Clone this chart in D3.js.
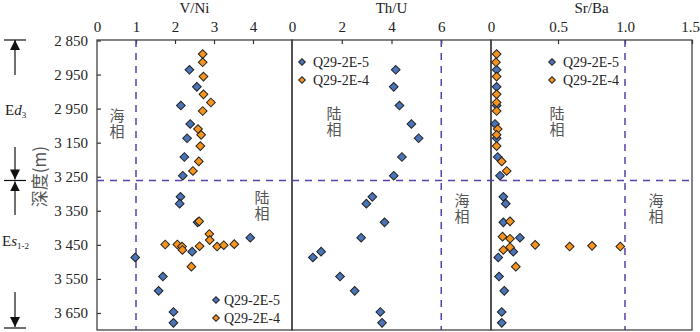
<!DOCTYPE html>
<html>
<head>
<meta charset="utf-8">
<script src="https://cdn.jsdelivr.net/npm/d3@7.9.0/dist/d3.min.js"></script>
<style>
  body { margin: 0; background: #fff; }
  svg { display: block; }
  .frame { fill: none; stroke: #333; stroke-width: 1.2; }
  .tick line { stroke: #333; stroke-width: 1.2; }
  .tick text { font-family: "Liberation Serif", "Times New Roman", serif; font-size: 15px; fill: #222; }
  .cn { font-family: "Noto Sans CJK SC", sans-serif; font-size: 15px; fill: #555; }
  .serif { font-family: "Liberation Serif", "Times New Roman", serif; fill: #222; }
</style>
</head>
<body>
<script>
// depth ticks (the source repeats "2 950")
const depthTicks = [2850, 2950, 3050, 3150, 3250, 3350, 3450, 3550, 3650];
const depthTickLabels = ["2 850", "2 950", "2 950", "3 150", "3 250", "3 350", "3 450", "3 550", "3 650"];
const boundaryDepth = 3261;

// Q29-2E-5 (blue), same samples in all three panels
const depthE5 = [2936, 2986, 3041, 3095, 3137, 3192, 3247, 3309, 3329, 3384, 3429, 3470, 3487, 3543, 3585, 3647, 3679];
const vNiE5 = [2.37, 2.56, 2.15, 2.39, 2.31, 2.24, 2.20, 2.14, 2.12, 2.58, 3.93, 2.44, 0.98, 1.69, 1.58, 1.96, 1.96];
const thUE5 = [4.17, 4.09, 4.32, 4.80, 5.09, 4.42, 4.09, 3.23, 2.99, 3.72, 2.78, 1.17, 0.84, 1.93, 2.52, 3.55, 3.62];
const srBaE5 = [0.042, 0.042, 0.042, 0.03, 0.042, 0.05, 0.067, 0.092, 0.11, 0.092, 0.216, 0.166, 0.054, 0.06, 0.099, 0.08, 0.08];

// Q29-2E-4 (orange)
const depthE4VNi = [2890, 2914, 2956, 3008, 3032, 3057, 3110, 3127, 3160, 3205, 3233,
  3381, 3418, 3436, 3449, 3449, 3455, 3465, 3454, 3455, 3451, 3448, 3514];
const vNiE4 = [2.71, 2.71, 2.73, 2.73, 2.92, 2.71, 2.59, 2.67, 2.65, 2.61, 2.46,
  2.62, 2.88, 2.89, 1.75, 2.06, 2.18, 2.19, 2.63, 3.08, 3.25, 3.52, 2.42];
const depthE4SrBa = [2890, 2914, 2956, 3008, 3032, 3057, 3110, 3127, 3160, 3205, 3233,
  3381, 3426, 3432, 3450, 3455, 3453, 3455, 3465, 3457, 3514];
const srBaE4 = [0.042, 0.037, 0.042, 0.042, 0.042, 0.042, 0.05, 0.042, 0.042, 0.08, 0.117,
  0.142, 0.086, 0.142, 0.33, 0.587, 0.754, 0.965, 0.092, 0.142, 0.185];

const seriesNames = ["Q29-2E-5", "Q29-2E-4"];
const seriesColors = ["#4a74b8", "#f7941d"];

const svg = d3.select("body").append("svg").attr("width", 700).attr("height", 332);

const y = d3.scaleLinear().domain([2850, 3700]).range([40.5, 330]);

const panels = [
  { title: "V/Ni", domain: [0, 5], range: [97, 292], ticks: [0, 1, 2, 3, 4], fmt: d3.format("d"), limit: 1,
    series: [[depthE5, vNiE5, 0], [depthE4VNi, vNiE4, 1]],
    upper: "海相", upperPos: [117, 124], lower: "陆相", lowerPos: [262, 206],
    legend: [216, 300], legendText: 224 },
  { title: "Th/U", domain: [0, 8], range: [292, 491], ticks: [0, 2, 4, 6], fmt: d3.format("d"), limit: 6,
    series: [[depthE5, thUE5, 0]],
    upper: "陆相", upperPos: [334, 122], lower: "海相", lowerPos: [462, 209],
    legend: [302, 62], legendText: 313 },
  { title: "Sr/Ba", domain: [0, 1.5], range: [491, 692], ticks: [0, 0.5, 1, 1.5], fmt: d => d === 0 ? "0" : d3.format(".1f")(d), limit: 1,
    series: [[depthE5, srBaE5, 0], [depthE4SrBa, srBaE4, 1]],
    upper: "陆相", upperPos: [557, 122], lower: "海相", lowerPos: [656, 209],
    legend: [552, 62], legendText: 563 }
];

const diamond = d3.symbol().type(d3.symbolSquare);
const dashColor = "#5a3fa8";

panels.forEach(p => {
  const x = d3.scaleLinear().domain(p.domain).range(p.range);
  const g = svg.append("g");

  // top axis, ticks pointing inward
  const ax = g.append("g").attr("transform", "translate(0,40)")
    .call(d3.axisTop(x).tickValues(p.ticks).tickSize(-4).tickPadding(8).tickFormat(p.fmt));
  ax.select(".domain").remove();
  ax.selectAll(".tick").filter(d => d === p.domain[0]).select("line").remove();
  ax.selectAll(".tick").filter(d => d === 1.5).select("text").attr("dx", -2);

  g.append("text").attr("class", "serif")
    .attr("x", (p.range[0] + p.range[1]) / 2).attr("y", 13)
    .attr("text-anchor", "middle").style("font-size", "15px").text(p.title);

  // threshold line
  g.append("line")
    .attr("x1", x(p.limit)).attr("x2", x(p.limit))
    .attr("y1", 40).attr("y2", 330)
    .attr("stroke", dashColor).attr("stroke-width", 1.5).attr("stroke-dasharray", "7,6");

  g.append("rect").attr("class", "frame")
    .attr("x", p.range[0]).attr("y", 40)
    .attr("width", p.range[1] - p.range[0]).attr("height", 290);

  // facies labels, written vertically
  [[p.upper, p.upperPos], [p.lower, p.lowerPos]].forEach(([txt, pos]) => {
    g.append("text").attr("class", "cn")
      .attr("x", pos[0]).attr("y", pos[1])
      .attr("text-anchor", "middle")
      .style("writing-mode", "vertical-rl")
      .style("letter-spacing", "1px")
      .text(txt);
  });

  p.series.forEach(([depths, vals, k]) => {
    g.append("g").selectAll("path")
      .data(vals.map((v, i) => [v, depths[i]]))
      .join("path")
      .attr("d", diamond.size(38)())
      .attr("transform", d => `translate(${x(d[0])},${y(d[1])}) rotate(45)`)
      .attr("fill", seriesColors[k]).attr("stroke", "#222").attr("stroke-width", 1);
  });

  // legend
  seriesNames.forEach((name, k) => {
    const ly = p.legend[1] + k * 18;
    g.append("path").attr("d", diamond.size(22)())
      .attr("transform", `translate(${p.legend[0]},${ly}) rotate(45)`)
      .attr("fill", seriesColors[k]).attr("stroke", "#222").attr("stroke-width", 1);
    g.append("text").attr("class", "serif").attr("x", p.legendText).attr("y", ly + 5)
      .style("font-size", "14px").text(name);
  });
});

// depth axis
const yAxis = svg.append("g").attr("transform", "translate(97,0)")
  .call(d3.axisLeft(y).tickValues(depthTicks).tickSize(-4).tickPadding(9)
    .tickFormat((d, i) => depthTickLabels[i]));
yAxis.select(".domain").remove();
yAxis.selectAll(".tick text").style("font-size", "15px");

// formation boundary
svg.append("line")
  .attr("x1", 97).attr("x2", 692)
  .attr("y1", y(boundaryDepth)).attr("y2", y(boundaryDepth))
  .attr("stroke", dashColor).attr("stroke-width", 1.5).attr("stroke-dasharray", "7,6");

svg.append("text").attr("class", "cn")
  .attr("transform", `translate(46,${y(3250)}) rotate(-90)`)
  .attr("text-anchor", "middle").style("font-size", "17px").text("深度(m)");

// formation arrows on the left
const ax0 = 15;
const defs = svg.append("defs");
defs.append("marker").attr("id", "tip")
  .attr("viewBox", "0 0 10 10").attr("refX", 10).attr("refY", 5)
  .attr("markerWidth", 10).attr("markerHeight", 10).attr("markerUnits", "userSpaceOnUse")
  .attr("orient", "auto")
  .append("path").attr("d", "M0,0 L10,5 L0,10 z").attr("fill", "#111");

const yb = y(boundaryDepth);
[[40, 75], [yb - 1, 147], [yb + 1, 215], [327, 292]].forEach(([tip, tail]) => {
  svg.append("line").attr("x1", ax0).attr("x2", ax0).attr("y1", tail).attr("y2", tip)
    .attr("stroke", "#111").attr("stroke-width", 1.2).attr("marker-end", "url(#tip)");
});
[40, yb, 328].forEach(yy => {
  svg.append("line").attr("x1", 4).attr("x2", 26).attr("y1", yy).attr("y2", yy)
    .attr("stroke", "#111").attr("stroke-width", 1.2);
});

const ed = svg.append("text").attr("class", "serif").attr("x", 5).attr("y", 115).style("font-size", "15px");
ed.append("tspan").text("E");
ed.append("tspan").style("font-style", "italic").text("d");
ed.append("tspan").attr("dy", 3).style("font-size", "9px").text("3");

const es = svg.append("text").attr("class", "serif").attr("x", 2).attr("y", 246).style("font-size", "15px");
es.append("tspan").text("E");
es.append("tspan").style("font-style", "italic").text("s");
es.append("tspan").attr("dy", 3).style("font-size", "9px").text("1-2");
</script>
</body>
</html>
